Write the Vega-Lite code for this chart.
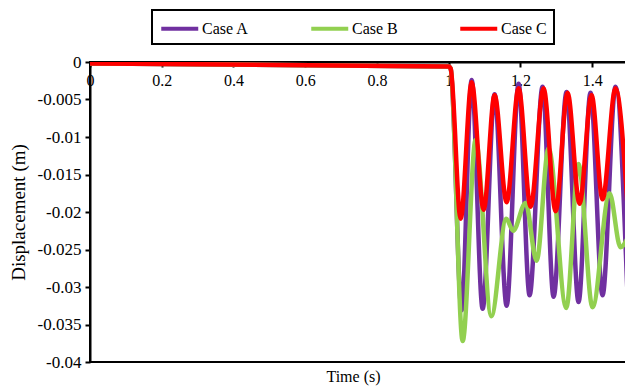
{
  "$schema": "https://vega.github.io/schema/vega-lite/v6.json",
  "width": 538,
  "height": 300,
  "autosize": {"type": "none"},
  "padding": {"left": 90, "top": 62, "right": 0, "bottom": 25},
  "background": "white",
  "config": {
    "view": {"stroke": "black", "strokeWidth": 2},
    "font": "Liberation Serif"
  },
  "data": {
    "values": [
      {"case": "Case A", "t": 0, "v": -0.0002},
      {"case": "Case A", "t": 1.0, "v": -0.0006},
      {"case": "Case A", "t": 1.0056, "v": -0.0009},
      {"case": "Case A", "t": 1.0362, "v": -0.0331},
      {"case": "Case A", "t": 1.0641, "v": -0.0024},
      {"case": "Case A", "t": 1.0947, "v": -0.0329},
      {"case": "Case A", "t": 1.1281, "v": -0.0043},
      {"case": "Case A", "t": 1.1616, "v": -0.0325},
      {"case": "Case A", "t": 1.195, "v": -0.0029},
      {"case": "Case A", "t": 1.2256, "v": -0.0311},
      {"case": "Case A", "t": 1.2618, "v": -0.0033},
      {"case": "Case A", "t": 1.2925, "v": -0.0313},
      {"case": "Case A", "t": 1.3287, "v": -0.004},
      {"case": "Case A", "t": 1.3621, "v": -0.032},
      {"case": "Case A", "t": 1.3955, "v": -0.0041},
      {"case": "Case A", "t": 1.429, "v": -0.0311},
      {"case": "Case A", "t": 1.4652, "v": -0.0033},
      {"case": "Case A", "t": 1.4986, "v": -0.031},
      {"case": "Case B", "t": 0, "v": -0.0002},
      {"case": "Case B", "t": 1.0, "v": -0.0006},
      {"case": "Case B", "t": 1.0056, "v": -0.0009},
      {"case": "Case B", "t": 1.039, "v": -0.0372},
      {"case": "Case B", "t": 1.0752, "v": -0.0104},
      {"case": "Case B", "t": 1.1189, "v": -0.0339},
      {"case": "Case B", "t": 1.1607, "v": -0.0209},
      {"case": "Case B", "t": 1.1797, "v": -0.0225},
      {"case": "Case B", "t": 1.2145, "v": -0.0188},
      {"case": "Case B", "t": 1.2451, "v": -0.0265},
      {"case": "Case B", "t": 1.2786, "v": -0.0115},
      {"case": "Case B", "t": 1.3279, "v": -0.0328},
      {"case": "Case B", "t": 1.3621, "v": -0.0136},
      {"case": "Case B", "t": 1.4011, "v": -0.0327},
      {"case": "Case B", "t": 1.4485, "v": -0.0175},
      {"case": "Case B", "t": 1.4791, "v": -0.0247},
      {"case": "Case B", "t": 1.4986, "v": -0.0235},
      {"case": "Case C", "t": 0, "v": -0.0002},
      {"case": "Case C", "t": 1.0, "v": -0.0006},
      {"case": "Case C", "t": 1.0056, "v": -0.0009},
      {"case": "Case C", "t": 1.0334, "v": -0.0209},
      {"case": "Case C", "t": 1.0641, "v": -0.0027},
      {"case": "Case C", "t": 1.0975, "v": -0.0197},
      {"case": "Case C", "t": 1.1281, "v": -0.0044},
      {"case": "Case C", "t": 1.1616, "v": -0.0187},
      {"case": "Case C", "t": 1.195, "v": -0.0035},
      {"case": "Case C", "t": 1.2284, "v": -0.0193},
      {"case": "Case C", "t": 1.2646, "v": -0.0035},
      {"case": "Case C", "t": 1.2981, "v": -0.0199},
      {"case": "Case C", "t": 1.3315, "v": -0.0041},
      {"case": "Case C", "t": 1.3649, "v": -0.0189},
      {"case": "Case C", "t": 1.3983, "v": -0.0044},
      {"case": "Case C", "t": 1.429, "v": -0.0183},
      {"case": "Case C", "t": 1.4652, "v": -0.0035},
      {"case": "Case C", "t": 1.4986, "v": -0.0191}
    ]
  },
  "mark": {"type": "line", "interpolate": "monotone", "strokeWidth": 4.5, "clip": true},
  "encoding": {
    "x": {
      "field": "t",
      "type": "quantitative",
      "scale": {"domain": [0, 1.5], "nice": false, "zero": false},
      "axis": {
        "orient": "bottom",
        "offset": -300,
        "values": [0, 0.2, 0.4, 0.6, 0.8, 1, 1.2, 1.4],
        "labelExpr": "format(datum.value, '~g')",
        "grid": false,
        "title": "Time (s)",
        "titleX": 263,
        "titleY": 314,
        "titleBaseline": "middle",
        "titleFont": "Liberation Serif",
        "titleFontSize": 16,
        "titleFontWeight": "normal",
        "titleColor": "black",
        "labelFont": "Liberation Serif",
        "labelFontSize": 16,
        "labelColor": "black",
        "labelPadding": 5,
        "labelFlush": false,
        "tickSize": 5,
        "tickWidth": 2,
        "tickColor": "black",
        "domainColor": "black",
        "domainWidth": 2
      }
    },
    "y": {
      "field": "v",
      "type": "quantitative",
      "scale": {"domain": [-0.04, 0], "nice": false, "zero": false},
      "axis": {
        "values": [-0.04, -0.035, -0.03, -0.025, -0.02, -0.015, -0.01, -0.005, 0],
        "labelExpr": "datum.value == 0 ? '0' : '-' + format(-datum.value, '~g')",
        "grid": false,
        "title": "Displacement (m)",
        "titleX": -72,
        "titleBaseline": "middle",
        "titleFont": "Liberation Serif",
        "titleFontSize": 19,
        "titleFontWeight": "normal",
        "titleColor": "black",
        "labelFont": "Liberation Serif",
        "labelFontSize": 17,
        "labelColor": "black",
        "labelPadding": 4,
        "tickSize": 5,
        "tickWidth": 2,
        "tickColor": "black",
        "domainColor": "black",
        "domainWidth": 2
      }
    },
    "color": {
      "field": "case",
      "type": "nominal",
      "scale": {"domain": ["Case A", "Case B", "Case C"], "range": ["#7030A0", "#92D050", "#FF0000"]},
      "legend": {
        "orient": "none",
        "legendX": 62,
        "legendY": -52,
        "direction": "horizontal",
        "title": null,
        "symbolType": "M-1,0H3",
        "symbolSize": 342,
        "symbolStrokeWidth": 4,
        "labelFont": "Liberation Serif",
        "labelFontSize": 16,
        "labelColor": "black",
        "labelOffset": 20,
        "columnPadding": 54,
        "padding": 7,
        "strokeColor": "black",
        "encode": {"legend": {"update": {"strokeWidth": {"value": 2}}}}
      }
    }
  }
}
